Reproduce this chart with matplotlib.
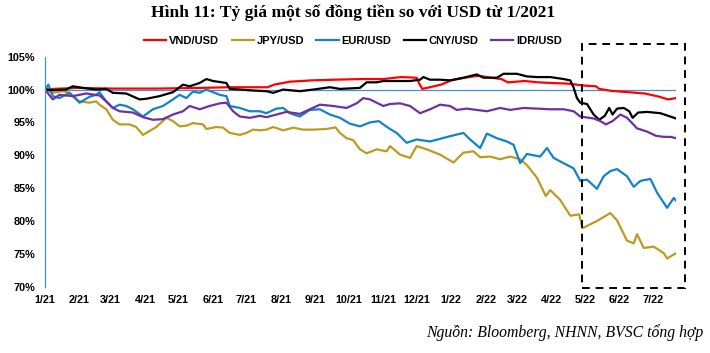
import matplotlib
matplotlib.use("Agg")
import matplotlib.pyplot as plt
from matplotlib.patches import Rectangle
import pandas as pd

# ---- data (day offset from 2021-01-01, index value in %) ----
vnd_days = [0, 7, 30, 60, 100, 140, 164, 200, 206, 220, 240, 260, 284, 304, 320, 334, 336, 339,
            347, 356, 365, 377, 389, 401, 410, 416, 431, 443, 455, 470, 485, 495, 498, 509, 524,
            539, 551, 560, 567]
vnd_vals = [100.0, 100.1, 100.25, 100.15, 100.15, 100.25, 100.35, 100.35, 100.75, 101.2, 101.4,
            101.5, 101.6, 101.6, 101.9, 101.8, 101.0, 100.1, 100.4, 100.75, 101.4, 101.8, 102.1,
            101.8, 101.6, 101.1, 101.3, 101.1, 101.0, 100.9, 100.6, 100.5, 100.1, 99.8, 99.6,
            99.4, 98.95, 98.5, 98.7]

jpy_days = [0, 7, 16, 22, 31, 40, 46, 49, 55, 61, 67, 76, 82, 88, 94, 100, 109, 115, 121, 127,
            133, 142, 145, 154, 160, 166, 175, 181, 187, 193, 199, 205, 214, 223, 232, 241, 253,
            261, 265, 271, 277, 283, 289, 298, 307, 310, 319, 328, 334, 343, 355, 367, 376, 385,
            391, 400, 409, 418, 427, 433, 442, 450, 454, 463, 472, 480, 483, 490, 496, 508, 514,
            523, 529, 532, 538, 547, 556, 559, 567]
jpy_vals = [100.0, 99.5, 99.75, 99.5, 98.2, 98.0, 98.2, 97.7, 97.0, 95.4, 94.7, 94.7, 94.3, 93.1,
            93.7, 94.3, 95.7, 95.2, 94.4, 94.5, 94.9, 94.7, 94.0, 94.3, 94.2, 93.4, 93.1, 93.4,
            93.9, 93.8, 93.9, 94.3, 93.8, 94.2, 93.9, 93.9, 94.0, 94.25, 93.4, 92.6, 92.3, 90.9,
            90.3, 90.9, 90.6, 91.4, 90.1, 89.6, 91.4, 90.9, 90.1, 88.9, 90.4, 90.6, 89.7, 89.8,
            89.4, 89.8, 89.4, 88.5, 86.6, 83.8, 84.7, 83.2, 80.8, 81.0, 78.9, 79.5, 80.0, 81.2,
            80.1, 77.0, 76.6, 78.0, 75.9, 76.1, 75.1, 74.3, 75.1]

eur_days = [0, 3, 7, 13, 22, 31, 40, 46, 49, 55, 61, 67, 73, 79, 88, 97, 106, 115, 121, 127,
            133, 139, 145, 151, 157, 163, 166, 175, 184, 193, 199, 208, 214, 220, 229, 238, 247,
            256, 265, 274, 283, 292, 300, 304, 310, 316, 325, 334, 346, 355, 364, 376, 382, 391,
            397, 406, 415, 421, 427, 433, 439, 445, 451, 457, 466, 475, 481, 487, 496, 502, 508,
            514, 523, 529, 535, 544, 550, 559, 565, 567]
eur_vals = [100.0, 100.75, 99.0, 98.7, 99.5, 98.0, 98.9, 99.2, 99.6, 98.2, 97.2, 97.7, 97.5, 97.0,
            95.9, 97.0, 97.5, 98.5, 99.2, 98.7, 99.7, 99.5, 100.0, 99.6, 99.2, 99.0, 97.5, 97.2,
            96.7, 96.7, 96.4, 97.1, 97.2, 96.4, 95.9, 96.9, 97.0, 96.2, 95.7, 94.8, 94.4, 95.0,
            95.2, 94.7, 94.0, 93.4, 91.9, 92.4, 92.1, 92.5, 92.9, 93.4, 92.4, 91.1, 93.3, 92.6,
            92.1, 91.6, 88.8, 90.2, 90.0, 89.8, 91.1, 89.6, 88.8, 88.0, 86.1, 86.3, 84.9, 86.8,
            87.6, 87.9, 86.8, 85.2, 86.1, 86.4, 84.3, 82.0, 83.5, 83.1]

cny_days = [0, 7, 19, 25, 34, 46, 55, 61, 73, 85, 91, 103, 115, 124, 130, 139, 145, 151, 163,
            166, 175, 187, 199, 205, 214, 229, 241, 256, 265, 283, 289, 298, 304, 316, 328, 337,
            340, 346, 355, 364, 376, 388, 394, 406, 412, 424, 433, 442, 454, 466, 472, 475, 478,
            481, 487, 493, 498, 503, 507, 510, 514, 520, 525, 528, 533, 541, 553, 560, 567]
cny_vals = [100.0, 99.9, 100.0, 100.5, 100.25, 100.0, 100.1, 99.5, 99.4, 98.5, 98.6, 99.0, 99.6,
            100.75, 100.5, 101.0, 101.6, 101.3, 101.0, 100.1, 100.0, 99.85, 99.75, 99.5, 100.0,
            99.75, 100.0, 100.35, 100.1, 100.25, 101.1, 101.1, 101.3, 101.3, 101.3, 101.5, 101.9,
            101.5, 101.5, 101.4, 101.8, 102.3, 101.8, 101.8, 102.4, 102.4, 102.0, 101.9, 101.9,
            101.6, 101.4, 100.3, 98.7, 98.0, 97.8, 96.2, 95.4, 96.0, 97.2, 96.2, 97.1, 97.2, 96.7,
            95.7, 96.5, 96.6, 96.4, 96.0, 95.6]

idr_days = [0, 7, 13, 25, 37, 49, 55, 61, 67, 79, 88, 97, 106, 115, 124, 130, 139, 148, 157, 163,
            169, 175, 184, 193, 199, 208, 217, 229, 238, 247, 259, 271, 280, 286, 292, 304, 310,
            319, 328, 337, 346, 355, 364, 370, 379, 388, 397, 409, 418, 430, 442, 454, 466, 475,
            481, 493, 499, 504, 510, 517, 523, 532, 541, 549, 556, 562, 567]
idr_vals = [100.0, 98.5, 99.2, 99.0, 99.4, 99.1, 98.2, 97.2, 96.7, 96.5, 95.8, 95.4, 95.5, 96.2,
            96.7, 97.5, 97.0, 97.5, 97.9, 98.0, 96.7, 95.9, 95.7, 96.0, 95.8, 96.2, 96.6, 96.3,
            97.0, 97.7, 97.5, 97.2, 97.9, 98.7, 98.5, 97.5, 97.8, 97.9, 97.5, 96.4, 97.0, 97.7,
            97.5, 96.9, 97.1, 96.9, 96.7, 97.2, 96.9, 97.2, 97.1, 97.0, 97.0, 96.7, 95.9, 95.6,
            95.2, 94.7, 95.2, 96.2, 95.7, 94.1, 93.6, 92.96, 92.8, 92.8, 92.6]

month_labels = ["1/21", "2/21", "3/21", "4/21", "5/21", "6/21", "7/21", "8/21", "9/21", "10/21",
                "11/21", "12/21", "1/22", "2/22", "3/22", "4/22", "5/22", "6/22", "7/22"]
y_ticks = [70, 75, 80, 85, 90, 95, 100, 105]

names = ["VND/USD", "JPY/USD", "EUR/USD", "CNY/USD", "IDR/USD"]
colors = ["#FF0000", "#BF9A20", "#1482C8", "#000000", "#7030A0"]

title = "Hình 11: Tỷ giá một số đồng tiền so với USD từ 1/2021"
source = "Nguồn: Bloomberg, NHNN, BVSC tổng hợp"

# ---- figure ----
fig = plt.figure(figsize=(7.10, 3.53), dpi=100)
ax = fig.add_axes([45 / 710, 1 - 286.7 / 353, (676 - 45) / 710, (286.7 - 56.7) / 353])

base = pd.Timestamp("2021-01-01")
tick_pos = [(d - base).days for d in pd.date_range("2021-01-01", periods=len(month_labels), freq="MS")]

series = [(vnd_days, vnd_vals), (jpy_days, jpy_vals), (eur_days, eur_vals),
          (cny_days, cny_vals), (idr_days, idr_vals)]

# 100% axis line (horizontal axis crosses at 100%)
ax.axhline(100, color="#4A90D0", lw=0.9, zorder=1)

handles = []
for (d, v), n, c in zip(series, names, colors):
    h, = ax.plot(d, v, color=c, lw=1.6, label=n, zorder=2)
    handles.append(h)

ax.set_xlim(0, 567)
ax.set_ylim(70, 105)
ax.set_yticks(y_ticks)
ax.set_yticklabels([f"{t}%" for t in y_ticks])
ax.set_xticks(tick_pos)
ax.set_xticklabels(month_labels)
ax.tick_params(axis="both", length=0, labelsize=7.8)
ax.tick_params(axis="x", pad=6)
ax.tick_params(axis="y", pad=7)
for lab in ax.get_xticklabels() + ax.get_yticklabels():
    lab.set_fontfamily("Liberation Sans")
    lab.set_fontweight("bold")

for s in ["top", "right", "bottom"]:
    ax.spines[s].set_visible(False)
ax.spines["left"].set_color("#4A90D0")
ax.spines["left"].set_linewidth(0.9)

# dashed highlight box
x0 = (582 - 45) / 631 * 567
x1 = (685 - 45) / 631 * 567
ylo = 105 - (288 - 56.7) / 230 * 35
yhi = 105 - (44 - 56.7) / 230 * 35
rect = Rectangle((x0, ylo), x1 - x0, yhi - ylo, fill=False, ls=(0, (4, 3)), lw=1.4,
                 edgecolor="black", clip_on=False, zorder=3)
ax.add_patch(rect)

leg = fig.legend(handles=handles, loc="center", bbox_to_anchor=(353 / 710, 1 - 41 / 353),
                 ncol=5, frameon=False, handlelength=2.0, handletextpad=0.25, columnspacing=1.1,
                 prop={"family": "Liberation Sans", "weight": "bold", "size": 8})

fig.text(353 / 710, 1 - 13 / 353, title, ha="center", va="center",
         fontfamily="Liberation Serif", fontweight="bold", fontsize=12.6)
fig.text(703 / 710, 1 - 333 / 353, source, ha="right", va="center",
         fontfamily="Liberation Serif", fontstyle="italic", fontsize=11.3)

fig.savefig("out.png", dpi=100)
